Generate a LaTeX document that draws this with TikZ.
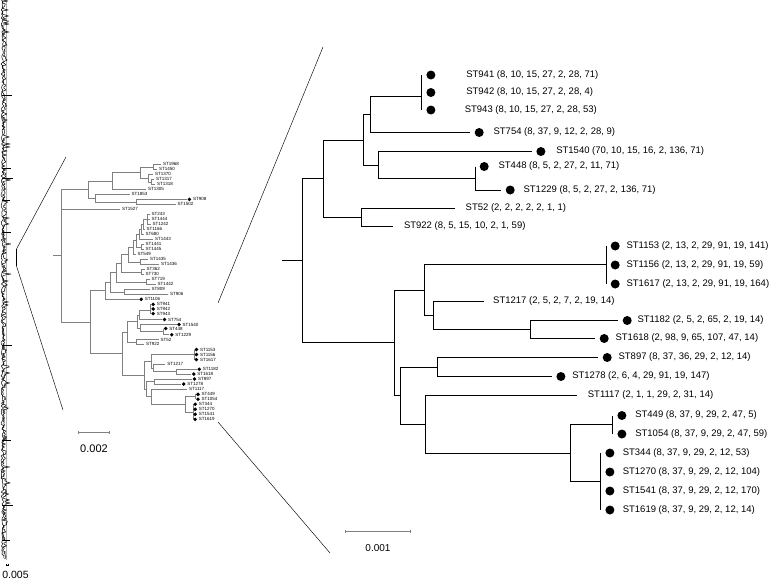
\documentclass[tikz,border=0pt]{standalone}
\usepackage{fontspec}
\setmainfont{Liberation Sans}
\usetikzlibrary{arrows.meta,positioning}

\newcommand{\stclade}[1]{%
  \coordinate (#1base) at (282,260.9);
  \coordinate (#1n1) at (302.3,260.9);
  \coordinate (#1n2) at (323.3,178.9);
  \coordinate (#1n3) at (363.3,140.3);
  \coordinate (#1n4) at (370.7,114.6);
  \coordinate (#1n5) at (421.7,96.5);
  \coordinate (#1n6) at (378.3,165.1);
  \coordinate (#1n7) at (475,178.5);
  \coordinate (#1n8) at (530.7,329.5);
  \coordinate (#1n9) at (361.7,217.5);
  \coordinate (#1n10) at (394.3,342.9);
  \coordinate (#1n11) at (424,290.3);
  \coordinate (#1n12) at (606,264.5);
  \coordinate (#1n13) at (433.3,315.6);
  \coordinate (#1n14) at (400.7,395.8);
  \coordinate (#1n15) at (437.3,367.2);
  \coordinate (#1n16) at (425.7,424.5);
  \coordinate (#1n17) at (570,453.5);
  \coordinate (#1n18) at (612.7,424.5);
  \coordinate (#1n19) at (600.7,481.5);
  \foreach \s/\px/\py in {941/421.7/75, 942/421.7/92.5, 943/421.7/110, 754/470/132.5,
      1540/531.7/151.5, 448/475/166.5, 1229/501/190, 52/455/208.5, 922/393.3/226.5,
      1153/606/246, 1156/606/265, 1617/606/284, 1217/484/301.5, 1182/618/320.5,
      1618/595/338.5, 897/598/357.5, 1278/551.7/376.5, 1117/576.7/395.5,
      449/612.7/415.5, 1054/612.7/434, 344/600.7/453, 1270/600.7/472,
      1541/600.7/491, 1619/600.7/510}
    \coordinate (#1t\s) at (\px,\py);
  \draw (#1base) -- (#1n1);
  \foreach \p/\c in {n1/n2, n1/n10, n2/n3, n2/n9, n3/n4, n3/n6, n4/n5, n4/t754,
      n5/t941, n5/t942, n5/t943, n6/t1540, n6/n7, n7/t448, n7/t1229, n9/t52, n9/t922,
      n10/n11, n10/n14, n11/n12, n11/n13, n12/t1153, n12/t1156, n12/t1617,
      n13/t1217, n13/n8, n8/t1182, n8/t1618, n14/n15, n14/n16, n15/t897, n15/t1278,
      n16/t1117, n16/n17, n17/n18, n17/n19, n18/t449, n18/t1054,
      n19/t344, n19/t1270, n19/t1541, n19/t1619}
    \draw (#1\p) |- (#1\c);
}

\begin{document}
\begin{tikzpicture}[
    x=1pt,
    y=-1pt,
    >=Latex,
    rdot/.style={circle, fill=black, inner sep=0pt, minimum size=9pt},
    mdot/.style={circle, fill=black, inner sep=0pt, minimum size=3.8pt},
    rlabel/.style={inner sep=0pt, font=\fontsize{9.5}{11}\selectfont},
    mlabel/.style={inner sep=0pt, font=\fontsize{4.5}{5}\selectfont},
    scalelabel/.style={inner sep=0pt, font=\fontsize{10.5}{12}\selectfont},
    scalebar/.style={draw=gray, line width=0.6pt, {Bar[width=3pt]}-{Bar[width=3pt]}},
    zoomline/.style={line width=0.45pt},
    strip/.style={line width=0.5pt, line join=bevel}
]
\useasboundingbox (0,0) rectangle (777,582);

% overview strip
\pgfmathsetseed{17}
\draw[gray!60, line width=0.8pt] (6,0) -- (6,560);
\draw[strip] (2.5,0) \foreach \i in {1,...,559} { -- ({1.5+4.5*rnd+6*rnd^10},\i) };
\draw[strip] (1.5,0) \foreach \i in {2,4,...,558} { -- ({1+3*rnd},\i) };
\foreach \yy/\ll in {95/10, 168/9, 178/11, 200/8, 232/9, 345/10, 440/9, 505/11, 540/8}
  \draw[strip] (2,\yy) -- ++(\ll,0);
\coordinate (s1) at (16.5,249);
\coordinate (s2) at (16.5,266);
\draw[line width=0.9pt] (s1) -- (s2);
\draw[scalebar, draw=black, line width=0.4pt, {Bar[width=2pt]}-{Bar[width=2pt]}] (5.5,565) -- (8.5,565);
\node[scalelabel] (l005) at (15.5,575) {0.005};

% middle tree
\begin{scope}[shift={(51.8,284.5)}, xscale=0.2347, yscale=0.2644, gray, line width=0.55pt]
  \stclade{M}
\end{scope}
\foreach \s/\px/\py in {1968/161/164.3, 1450/157/169.3, 1370/153/174.3, 1317/154/179.3,
    1318/155/184.3, 1305/146/189.3, 1853/129.7/194.3, 908/187/199.3, 1502/175.5/204.3,
    1527/120/209.3, 243/149.7/214.3, 1444/149.7/219.3, 1242/150.5/224.3, 1166/144.7/229.3,
    680/143.7/234.3, 1443/153/239.3, 1441/143.7/244.3, 1445/143.5/249.3, 549/135.7/254.3,
    1435/148/259.3, 1436/159/264.3, 362/144.7/269.3, 730/143.7/274.3, 719/149.7/279.3,
    1442/155.7/284.3, 809/149.7/289.3, 906/168/294.3, 1106/138.8/299.3}
  \coordinate (Mt\s) at (\px,\py);
\foreach \s/\px/\py in {stem/53.3/255.7, root/61.7/255.7, A/88.3/189.5, A1/112/180.9,
    A2/140/172.4, A3/153/166.8, A4/148/178, A5/151/181.8, A6/95/198, A7/136.7/201.8,
    B/90/322, B1/105/290.7, L10/110/282.2, L9/116/272.5, L8/121/263.2, L7/128/254.6,
    L6/133/247.4, L5/136/240.6, L4/139/234.3, L3/141/229.3, L2/143/224.3, L1/147/219.3,
    B5/141/246.8, B6/140/261.8, B7/141/271.8, B8/146/281.8, B9/124/291.8}
  \coordinate (M\s) at (\px,\py);
\begin{scope}[gray, line width=0.55pt]
  \draw (Mstem) -- (Mroot);
  \foreach \p/\c in {root/A, root/t1527, root/B, A/A1, A/A6, A1/A2, A1/t1305, A2/A3, A2/A4,
      A3/t1968, A3/t1450, A4/t1370, A4/A5, A5/t1317, A5/t1318, A6/t1853, A6/A7,
      A7/t908, A7/t1502, B/B1, B/base, B1/L10, B1/t1106, L10/L9, L10/B9, B9/t809, B9/t906,
      L9/L8, L9/B8, B8/t719, B8/t1442, L8/L7, L8/B7, B7/t362, B7/t730, L7/L6, L7/B6,
      B6/t1435, B6/t1436, L6/L5, L6/t549, L5/L4, L5/B5, B5/t1441, B5/t1445, L4/L3,
      L4/t1443, L3/L2, L3/t680, L2/L1, L2/t1166, L1/t243, L1/t1444, L1/t1242}
    \draw (M\p) |- (M\c);
\end{scope}
\foreach \s in {908, 1106, 941, 942, 943, 754, 1540, 448, 1229, 1153, 1156, 1617, 1182,
    1618, 897, 1278, 449, 1054, 344, 1270, 1541, 1619} {
  \node[mdot, right=0.3pt of Mt\s] (Md\s) {};
  \node[mlabel, right=1.3pt of Md\s] (Ml\s) {ST\s};
}
\foreach \s in {1968, 1450, 1370, 1317, 1318, 1305, 1853, 1502, 1527, 243, 1444, 1242,
    1166, 680, 1443, 1441, 1445, 549, 1435, 1436, 362, 730, 719, 1442, 809, 906,
    52, 922, 1217, 1117}
  \node[mlabel, right=1.8pt of Mt\s] (Ml\s) {ST\s};
\draw[scalebar] (78.3,432.3) -- (109.3,432.3);
\node[scalelabel, font=\fontsize{11}{13}\selectfont] (l002) at (94,449) {0.002};

% detail tree
\begin{scope}[black, line width=0.9pt]
  \stclade{R}
\end{scope}
\foreach \s/\g/\a in {941/30.5/{8, 10, 15, 27, 2, 28, 71}, 942/30.5/{8, 10, 15, 27, 2, 28, 4},
    943/29/{8, 10, 15, 27, 2, 28, 53}, 754/9.5/{8, 37, 9, 12, 2, 28, 9},
    1540/10.5/{70, 10, 15, 16, 2, 136, 71}, 448/9.5/{8, 5, 2, 27, 2, 11, 71},
    1229/8.5/{8, 5, 2, 27, 2, 136, 71}, 1153/6.5/{2, 13, 2, 29, 91, 19, 141},
    1156/6.5/{2, 13, 2, 29, 91, 19, 59}, 1617/6.5/{2, 13, 2, 29, 91, 19, 164},
    1182/5.5/{2, 5, 2, 65, 2, 19, 14}, 1618/6.5/{2, 98, 9, 65, 107, 47, 14},
    897/6.5/{8, 37, 36, 29, 2, 12, 14}, 1278/6.5/{2, 6, 4, 29, 91, 19, 147},
    449/8.5/{8, 37, 9, 29, 2, 47, 5}, 1054/8.5/{8, 37, 9, 29, 2, 47, 59},
    344/8/{8, 37, 9, 29, 2, 12, 53}, 1270/8/{8, 37, 9, 29, 2, 12, 104},
    1541/8/{8, 37, 9, 29, 2, 12, 170}, 1619/8/{8, 37, 9, 29, 2, 12, 14}} {
  \node[rdot, right=4.5pt of Rt\s] (Rd\s) {};
  \node[rlabel, right=\g pt of Rd\s] (Rl\s) {ST\s{} (\a)};
}
\foreach \s/\g/\a in {52/10.5/{2, 2, 2, 2, 2, 1, 1}, 922/10.5/{8, 5, 15, 10, 2, 1, 59},
    1217/9/{2, 5, 2, 7, 2, 19, 14}, 1117/11/{2, 1, 1, 29, 2, 31, 14}}
  \node[rlabel, right=\g pt of Rt\s] (Rl\s) {ST\s{} (\a)};
\draw[scalebar] (345,531) -- (411,531);
\node[scalelabel, font=\fontsize{10}{12}\selectfont] (l001) at (378,548) {0.001};

% zoom guides
\coordinate (m1) at (66,157);
\coordinate (m2) at (63,410);
\coordinate (b1) at (218,303);
\coordinate (b2) at (218,422);
\coordinate (r1) at (323,47);
\coordinate (r2) at (330,553);
\draw[zoomline] (s1) -- (m1);
\draw[zoomline] (s2) -- (m2);
\draw[zoomline] (b1) -- (r1);
\draw[zoomline] (b2) -- (r2);
\end{tikzpicture}
\end{document}
